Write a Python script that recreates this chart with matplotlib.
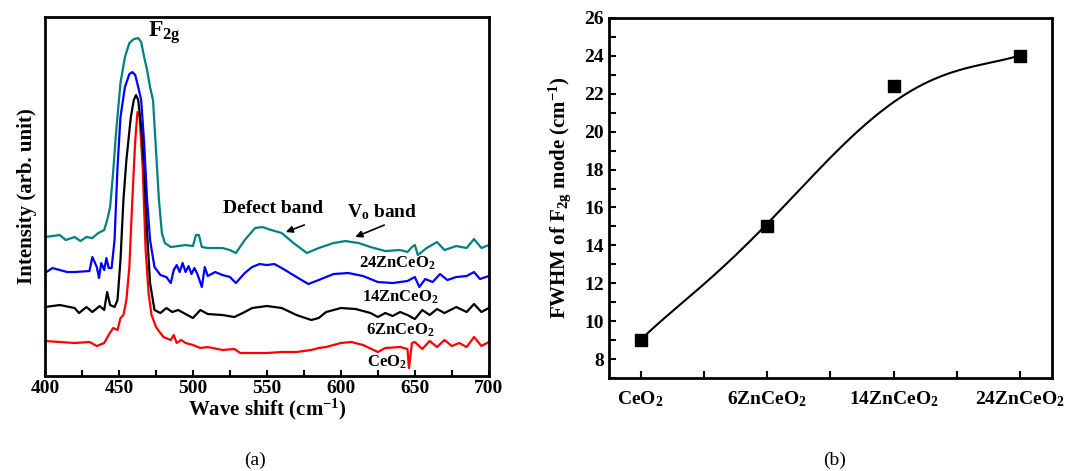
import numpy as np
import matplotlib
matplotlib.use("Agg")
from matplotlib import pyplot as plt
from matplotlib.ticker import MultipleLocator

plt.rcParams['font.family'] = ['Liberation Serif', 'DejaVu Serif']
plt.rcParams['font.weight'] = 'bold'
plt.rcParams['axes.labelweight'] = 'bold'
plt.rcParams['mathtext.fontset'] = 'custom'
plt.rcParams['mathtext.rm'] = 'Liberation Serif:bold'
plt.rcParams['mathtext.it'] = 'Liberation Serif:bold'
plt.rcParams['mathtext.bf'] = 'Liberation Serif:bold'
plt.rcParams['mathtext.default'] = 'bf'

# ---- panel (a): Raman spectra (intensity in arbitrary units, offset stacked)
ceo2_x = [400, 410, 420, 430, 435, 440, 443, 446, 449, 451, 453, 455, 457, 459, 461, 462.5,
          464, 466, 468, 470, 472, 475, 480, 485, 487, 489, 492, 495, 500, 505, 510, 520,
          528, 532, 540, 550, 560, 570, 580, 585, 590, 600, 607, 615, 625, 630, 640, 645,
          646, 648, 650, 655, 660, 665, 670, 675, 680, 685, 690, 695, 700]
ceo2_y = [35, 34, 33, 34, 30, 33, 41, 48, 46, 58, 61, 76, 109, 176, 236, 264,
          259, 209, 126, 83, 61, 49, 39, 36, 41, 33, 36, 33, 31, 28, 29, 26,
          27, 23, 23, 23, 24, 24, 26, 28, 29, 33, 34, 31, 24, 28, 29, 27,
          8, 33, 34, 27, 35, 29, 36, 30, 33, 29, 39, 30, 34]

zn6_x = [400, 410, 420, 423, 428, 432, 437, 440, 442, 444, 447, 449, 451, 453, 455, 458,
         460, 461.5, 463, 465, 467, 469, 471, 474, 478, 482, 486, 490, 495, 500, 505, 510,
         520, 528, 535, 540, 550, 560, 570, 580, 585, 590, 600, 610, 620, 625, 630, 635,
         640, 645, 650, 655, 660, 665, 670, 678, 685, 690, 695, 700]
zn6_y = [69, 71, 68, 63, 69, 64, 70, 66, 84, 71, 69, 76, 116, 176, 216, 259,
         276, 281, 276, 249, 209, 143, 93, 66, 63, 68, 64, 66, 62, 58, 66, 62,
         61, 59, 64, 68, 70, 68, 61, 56, 58, 64, 68, 67, 63, 59, 63, 60,
         64, 61, 57, 66, 61, 67, 63, 69, 64, 72, 64, 68]

zn14_x = [400, 405, 410, 415, 420, 430, 432, 435, 436.5, 438, 440, 441.5, 443, 445, 447, 449,
          451, 454, 457, 459, 461, 463, 465, 467, 469, 471, 474, 478, 482, 485, 487, 489,
          491, 493, 495, 497, 499, 501, 503, 506, 508, 510, 515, 520, 525, 529, 535, 540,
          545, 550, 555, 560, 570, 578, 585, 595, 605, 615, 625, 635, 645, 650, 653, 657,
          662, 667, 672, 678, 685, 690, 694, 700]
zn14_y = [103, 108, 106, 104, 104, 105, 119, 109, 98, 113, 106, 118, 108, 108, 136, 209,
          259, 289, 302, 304, 301, 289, 276, 233, 176, 136, 109, 101, 99, 93, 106, 111,
          104, 113, 104, 110, 102, 108, 102, 89, 109, 100, 104, 101, 99, 93, 103, 109,
          112, 111, 112, 108, 99, 92, 96, 102, 103, 100, 94, 93, 95, 99, 89, 97,
          94, 102, 96, 99, 100, 104, 97, 100]

zn24_x = [400, 405, 410, 414, 420, 424, 428, 432, 436, 440, 442, 444, 446, 448, 451, 454,
          457, 460, 463, 465, 467, 469, 471, 473, 475, 477, 479, 481, 485, 490, 495, 500,
          502, 504, 506, 510, 520, 525, 529, 535, 542, 547, 553, 560, 568, 577, 585, 595,
          603, 612, 620, 630, 640, 645, 648, 650, 652, 658, 665, 670, 678, 685, 690, 695, 700]
zn24_y = [139, 140, 141, 136, 139, 135, 139, 138, 143, 146, 156, 169, 203, 243, 293, 319,
          333, 337, 338, 334, 319, 306, 289, 276, 226, 176, 143, 133, 129, 130, 131, 130,
          141, 141, 129, 128, 128, 126, 123, 136, 148, 149, 146, 143, 133, 123, 128, 133,
          135, 133, 129, 125, 126, 124, 129, 131, 121, 128, 134, 126, 130, 128, 137, 128, 131]

spectra = [
    (ceo2_x, ceo2_y, '#ff0000'),
    (zn6_x, zn6_y, '#000000'),
    (zn14_x, zn14_y, '#0000ff'),
    (zn24_x, zn24_y, '#008080'),
]

# ---- panel (b): FWHM of F2g mode
samples = ['CeO$_2$', '6ZnCeO$_2$', '14ZnCeO$_2$', '24ZnCeO$_2$']
fwhm = [9.0, 15.0, 22.4, 24.0]
# fitted curve
fit_x = [0, 0.25, 0.5, 0.75, 1.0, 1.25, 1.5, 1.75, 2.0, 2.25, 2.5, 2.75, 3.0]
fit_y = [9.0, 10.5, 12.0, 13.5, 15.0, 16.9, 18.7, 20.3, 21.5, 22.5, 23.2, 23.7, 24.0]

fig = plt.figure(figsize=(10.72, 4.71), dpi=100)
ax1 = fig.add_axes([0.042, 0.2017, 0.414, 0.762])
ax2 = fig.add_axes([0.568, 0.1975, 0.4132, 0.7643])

for ax in (ax1, ax2):
    for s in ax.spines.values():
        s.set_linewidth(2.0)

# panel a
for x, y, c in spectra:
    ax1.plot(x, y, color=c, lw=1.6)
ax1.set_xlim(400, 700)
ax1.set_ylim(0, 359)
ax1.set_yticks([])
ax1.xaxis.set_major_locator(MultipleLocator(50))
ax1.xaxis.set_minor_locator(MultipleLocator(25))
ax1.tick_params(axis='x', which='both', direction='in', length=4, width=1.5,
                labelsize=14, pad=3)
ax1.set_xlabel('Wave shift (cm$^{-1}$)', fontsize=15, labelpad=0)
ax1.set_ylabel('Intensity (arb. unit)', fontsize=15, labelpad=6)

ax1.text(481, 343, 'F$_{2g}$', fontsize=17, ha='center', va='center')
ax1.text(554, 168, 'Defect band', fontsize=14, ha='center', va='center')
ax1.annotate('', xy=(561, 143), xytext=(577, 152),
             arrowprops=dict(arrowstyle='-|>', color='black', lw=1.2, mutation_scale=10))
ax1.text(628, 164, 'V$_o$ band', fontsize=14, ha='center', va='center')
ax1.annotate('', xy=(608, 138), xytext=(631, 152),
             arrowprops=dict(arrowstyle='-|>', color='black', lw=1.2, mutation_scale=10))
ax1.text(638, 113, '24ZnCeO$_2$', fontsize=12, ha='center', va='center')
ax1.text(640, 79, '14ZnCeO$_2$', fontsize=12, ha='center', va='center')
ax1.text(640, 46, '6ZnCeO$_2$', fontsize=12, ha='center', va='center')
ax1.text(631, 14, 'CeO$_2$', fontsize=12, ha='center', va='center')

# panel b
xs = np.arange(len(samples))
coef = np.polyfit(fit_x, fit_y, 5)
xx = np.linspace(fit_x[0], fit_x[-1], 200)
ax2.plot(xx, np.polyval(coef, xx), color='black', lw=1.5)
ax2.plot(xs, fwhm, 's', color='black', markersize=8)
ax2.set_xlim(-0.25, 3.25)
ax2.set_ylim(7, 26)
ax2.set_xticks(xs)
ax2.set_xticklabels(samples)
ax2.xaxis.set_minor_locator(MultipleLocator(0.5))
ax2.yaxis.set_major_locator(MultipleLocator(2))
ax2.yaxis.set_minor_locator(MultipleLocator(1))
ax2.tick_params(axis='both', which='both', direction='in', length=5, width=1.5)
ax2.tick_params(axis='y', labelsize=14)
ax2.tick_params(axis='x', labelsize=14, pad=8)
ax2.set_ylabel('FWHM of F$_{2g}$ mode (cm$^{-1}$)', fontsize=15, labelpad=8)

fig.text(255 / 1072, 1 - 460 / 471, '(a)', fontsize=14, fontweight='normal',
         ha='center', va='center')
fig.text(835 / 1072, 1 - 460 / 471, '(b)', fontsize=14, fontweight='normal',
         ha='center', va='center')

fig.savefig('out.png', dpi=100)
